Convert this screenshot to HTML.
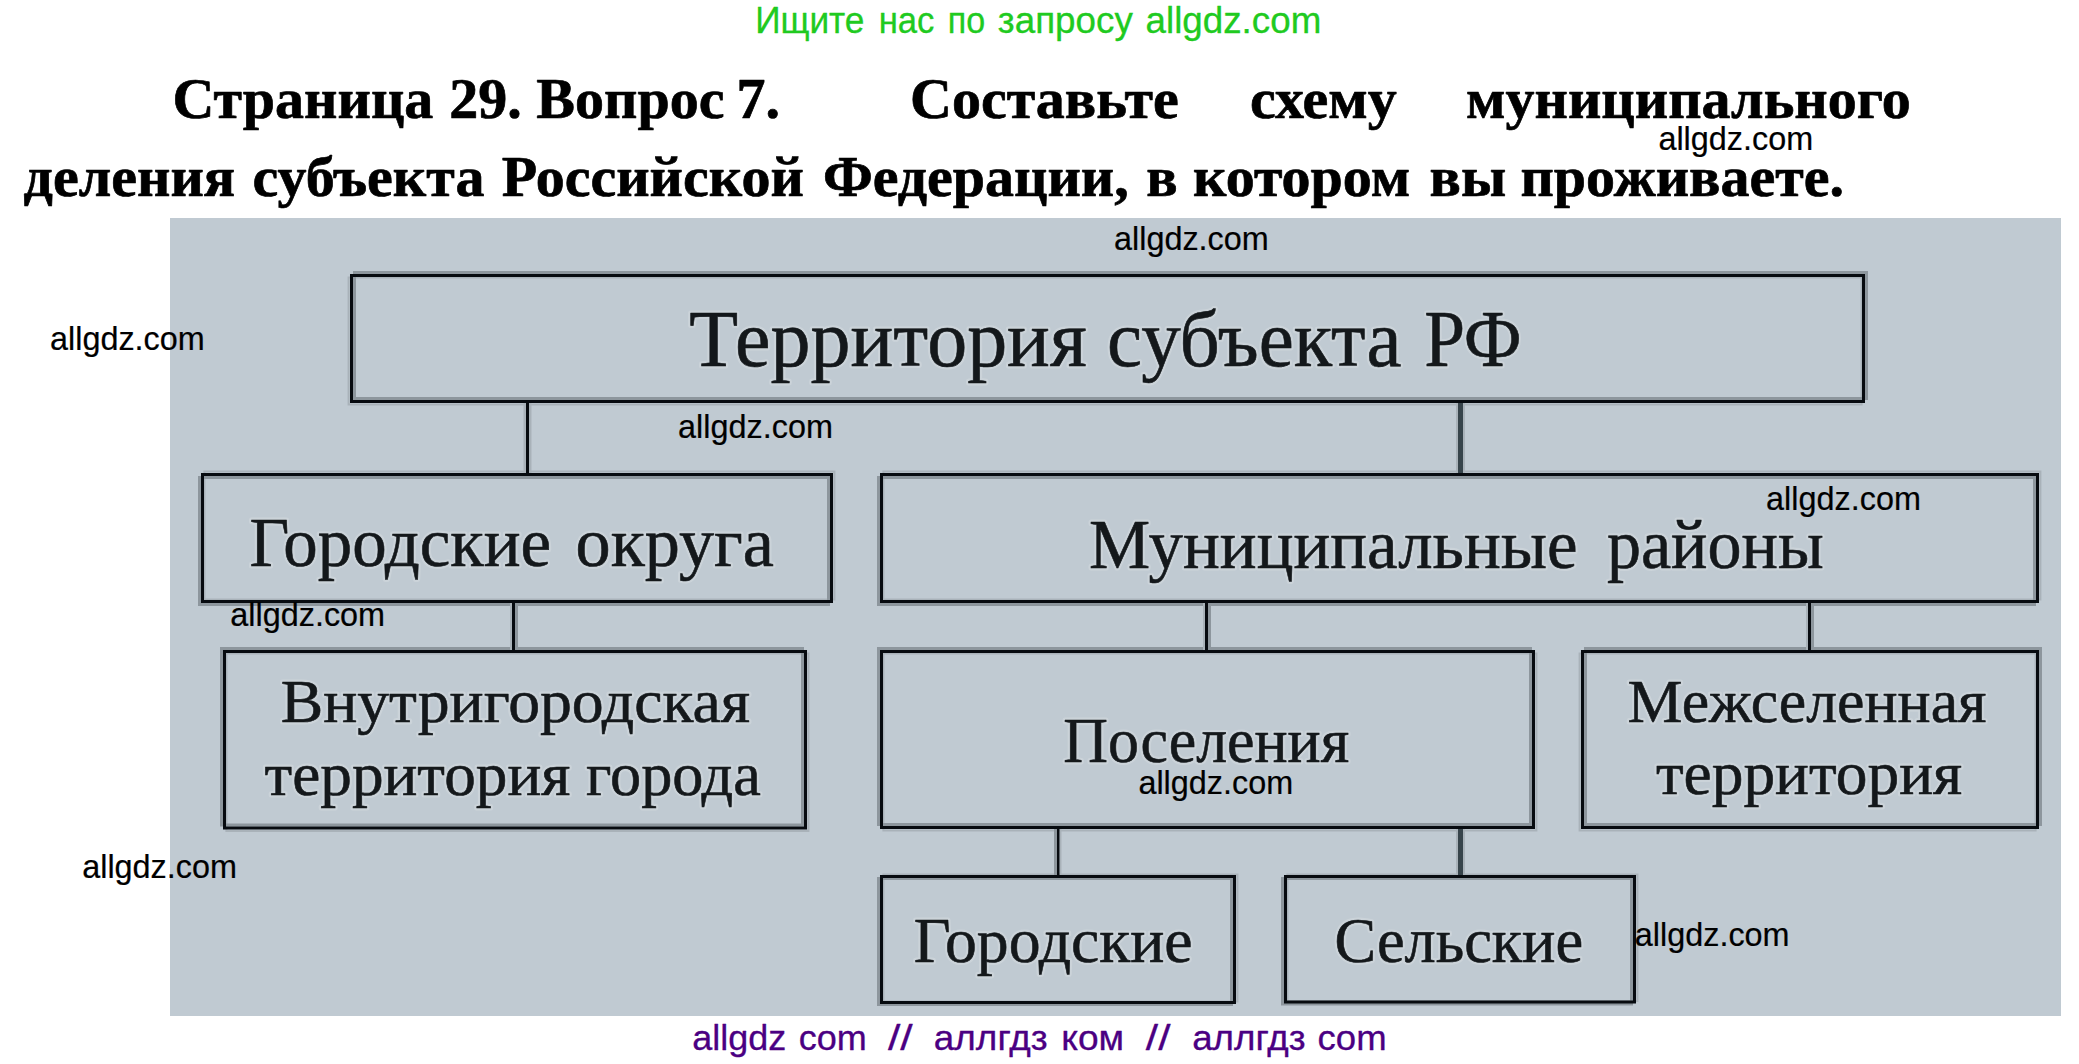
<!DOCTYPE html>
<html><head><meta charset="utf-8"><title>allgdz</title>
<style>html,body{margin:0;padding:0;background:#fff;width:2079px;height:1064px;overflow:hidden}svg{display:block}</style>
</head><body>
<svg width="2079" height="1064" viewBox="0 0 2079 1064">
<rect x="170" y="218" width="1891" height="798" fill="#c0cad2"/>
<path d="M347.6,276.4H1862.6V405.4H347.6Z M349.6,278.4V403.4H1860.6V278.4Z" fill="#a9b2b9" fill-rule="evenodd"/>
<path d="M353,271H1868V400H353Z M356.0,274.0V397.0H1865.0V274.0Z" fill="#8d969d" fill-rule="evenodd"/>
<path d="M350,274H1865V403H350Z M353.0,277.0V400.0H1862.0V277.0Z" fill="#070b10" fill-rule="evenodd"/>
<path d="M203.4,470.6H835.4V600.6H203.4Z M205.4,472.6V598.6H833.4V472.6Z" fill="#a9b2b9" fill-rule="evenodd"/>
<path d="M198,476H830V606H198Z M201.0,479.0V603.0H827.0V479.0Z" fill="#8d969d" fill-rule="evenodd"/>
<path d="M201,473H833V603H201Z M204.0,476.0V600.0H830.0V476.0Z" fill="#070b10" fill-rule="evenodd"/>
<path d="M882.4,470.6H2041.4V600.6H882.4Z M884.4,472.6V598.6H2039.4V472.6Z" fill="#a9b2b9" fill-rule="evenodd"/>
<path d="M877,476H2036V606H877Z M880.0,479.0V603.0H2033.0V479.0Z" fill="#8d969d" fill-rule="evenodd"/>
<path d="M880,473H2039V603H880Z M883.0,476.0V600.0H2036.0V476.0Z" fill="#070b10" fill-rule="evenodd"/>
<path d="M225.4,652.4H809.4V831.9H225.4Z M227.4,654.4V829.9H807.4V654.4Z" fill="#a9b2b9" fill-rule="evenodd"/>
<path d="M220,647H804V826.5H220Z M223.0,650.0V823.5H801.0V650.0Z" fill="#8d969d" fill-rule="evenodd"/>
<path d="M223,650H807V829.5H223Z M226.0,653.0V826.5H804.0V653.0Z" fill="#070b10" fill-rule="evenodd"/>
<path d="M882.4,652.4H1537.4V831.4H882.4Z M884.4,654.4V829.4H1535.4V654.4Z" fill="#a9b2b9" fill-rule="evenodd"/>
<path d="M877,647H1532V826H877Z M880.0,650.0V823.0H1529.0V650.0Z" fill="#8d969d" fill-rule="evenodd"/>
<path d="M880,650H1535V829H880Z M883.0,653.0V826.0H1532.0V653.0Z" fill="#070b10" fill-rule="evenodd"/>
<path d="M1578.6,652.4H2036.6V831.4H1578.6Z M1580.6,654.4V829.4H2034.6V654.4Z" fill="#a9b2b9" fill-rule="evenodd"/>
<path d="M1584,647H2042V826H1584Z M1587.0,650.0V823.0H2039.0V650.0Z" fill="#8d969d" fill-rule="evenodd"/>
<path d="M1581,650H2039V829H1581Z M1584.0,653.0V826.0H2036.0V653.0Z" fill="#070b10" fill-rule="evenodd"/>
<path d="M882.4,873.4H1238.4V1002.4H882.4Z M884.4,875.4V1000.4H1236.4V875.4Z" fill="#a9b2b9" fill-rule="evenodd"/>
<path d="M877,877H1233V1006H877Z M880.0,880.0V1003.0H1230.0V880.0Z" fill="#8d969d" fill-rule="evenodd"/>
<path d="M880,875H1236V1004H880Z M883.0,878.0V1001.0H1233.0V878.0Z" fill="#070b10" fill-rule="evenodd"/>
<path d="M1286.4,873.4H1638.4V1001.9H1286.4Z M1288.4,875.4V999.9H1636.4V875.4Z" fill="#a9b2b9" fill-rule="evenodd"/>
<path d="M1281,877H1633V1005.5H1281Z M1284.0,880.0V1002.5H1630.0V880.0Z" fill="#8d969d" fill-rule="evenodd"/>
<path d="M1284,875H1636V1003.5H1284Z M1287.0,878.0V1000.5H1633.0V878.0Z" fill="#070b10" fill-rule="evenodd"/>
<rect x="523.5" y="403" width="2.5" height="70" fill="#a9b2b9"/>
<rect x="529" y="403" width="2.5" height="70" fill="#a9b2b9"/>
<rect x="526" y="403" width="3" height="70" fill="#070b10"/>
<rect x="1456" y="403" width="2" height="70" fill="#a9b2b9"/>
<rect x="1463" y="403" width="2" height="70" fill="#a9b2b9"/>
<rect x="1458" y="403" width="5" height="70" fill="#37444b"/>
<rect x="510" y="603" width="2" height="47" fill="#a9b2b9"/>
<rect x="515" y="603" width="3" height="47" fill="#8d969d"/>
<rect x="512" y="603" width="3" height="47" fill="#070b10"/>
<rect x="1203" y="603" width="2" height="47" fill="#a9b2b9"/>
<rect x="1208" y="603" width="3" height="47" fill="#8d969d"/>
<rect x="1205" y="603" width="3" height="47" fill="#070b10"/>
<rect x="1806" y="603" width="2" height="47" fill="#a9b2b9"/>
<rect x="1811" y="603" width="3" height="47" fill="#8d969d"/>
<rect x="1808" y="603" width="3" height="47" fill="#070b10"/>
<rect x="1054" y="829" width="3" height="46" fill="#8d969d"/>
<rect x="1059.5" y="829" width="2.0" height="46" fill="#a9b2b9"/>
<rect x="1057" y="829" width="2.5" height="46" fill="#070b10"/>
<rect x="1456" y="829" width="2" height="46" fill="#a9b2b9"/>
<rect x="1463" y="829" width="2" height="46" fill="#a9b2b9"/>
<rect x="1458" y="829" width="5" height="46" fill="#37444b"/>
<text transform="translate(689.30,366.40) scale(1.0056,1)" font-family="&quot;Liberation Serif&quot;, serif" font-size="79.5" font-weight="normal" fill="#14181b" stroke="#cbd3d9" stroke-width="5" stroke-linejoin="round">Территория</text>
<text transform="translate(1107.10,366.40) scale(0.9940,1)" font-family="&quot;Liberation Serif&quot;, serif" font-size="79.5" font-weight="normal" fill="#14181b" stroke="#cbd3d9" stroke-width="5" stroke-linejoin="round">субъекта</text>
<text transform="translate(1424.30,366.40) scale(0.9219,1)" font-family="&quot;Liberation Serif&quot;, serif" font-size="79.5" font-weight="normal" fill="#14181b" stroke="#cbd3d9" stroke-width="5" stroke-linejoin="round">РФ</text>
<text transform="translate(249.50,565.70) scale(0.9988,1)" font-family="&quot;Liberation Serif&quot;, serif" font-size="69" font-weight="normal" fill="#14181b" stroke="#cbd3d9" stroke-width="5" stroke-linejoin="round">Городские</text>
<text transform="translate(575.60,565.70) scale(1.0171,1)" font-family="&quot;Liberation Serif&quot;, serif" font-size="69" font-weight="normal" fill="#14181b" stroke="#cbd3d9" stroke-width="5" stroke-linejoin="round">округа</text>
<text transform="translate(1089.10,567.50) scale(0.9832,1)" font-family="&quot;Liberation Serif&quot;, serif" font-size="70" font-weight="normal" fill="#14181b" stroke="#cbd3d9" stroke-width="5" stroke-linejoin="round">Муниципальные</text>
<text transform="translate(1606.90,567.50) scale(0.9721,1)" font-family="&quot;Liberation Serif&quot;, serif" font-size="70" font-weight="normal" fill="#14181b" stroke="#cbd3d9" stroke-width="5" stroke-linejoin="round">районы</text>
<text transform="translate(280.70,722.00) scale(1.0273,1)" font-family="&quot;Liberation Serif&quot;, serif" font-size="62" font-weight="normal" fill="#14181b" stroke="#cbd3d9" stroke-width="5" stroke-linejoin="round">Внутригородская</text>
<text transform="translate(264.60,795.00) scale(1.0201,1)" font-family="&quot;Liberation Serif&quot;, serif" font-size="62" font-weight="normal" fill="#14181b" stroke="#cbd3d9" stroke-width="5" stroke-linejoin="round">территория</text>
<text transform="translate(586.10,795.00) scale(1.0037,1)" font-family="&quot;Liberation Serif&quot;, serif" font-size="62" font-weight="normal" fill="#14181b" stroke="#cbd3d9" stroke-width="5" stroke-linejoin="round">города</text>
<text transform="translate(1063.30,762.00) scale(0.9901,1)" font-family="&quot;Liberation Serif&quot;, serif" font-size="62.5" font-weight="normal" fill="#14181b" stroke="#cbd3d9" stroke-width="5" stroke-linejoin="round">Поселения</text>
<text transform="translate(1627.60,721.60) scale(0.9966,1)" font-family="&quot;Liberation Serif&quot;, serif" font-size="62" font-weight="normal" fill="#14181b" stroke="#cbd3d9" stroke-width="5" stroke-linejoin="round">Межселенная</text>
<text transform="translate(1655.90,794.30) scale(1.0221,1)" font-family="&quot;Liberation Serif&quot;, serif" font-size="62" font-weight="normal" fill="#14181b" stroke="#cbd3d9" stroke-width="5" stroke-linejoin="round">территория</text>
<text transform="translate(913.80,962.30) scale(1.0030,1)" font-family="&quot;Liberation Serif&quot;, serif" font-size="63.5" font-weight="normal" fill="#14181b" stroke="#cbd3d9" stroke-width="5" stroke-linejoin="round">Городские</text>
<text transform="translate(1334.60,962.00) scale(0.9819,1)" font-family="&quot;Liberation Serif&quot;, serif" font-size="63.5" font-weight="normal" fill="#14181b" stroke="#cbd3d9" stroke-width="5" stroke-linejoin="round">Сельские</text>
<text transform="translate(689.30,366.40) scale(1.0056,1)" font-family="&quot;Liberation Serif&quot;, serif" font-size="79.5" font-weight="normal" fill="#14181b" stroke="#14181b" stroke-width="0.6" stroke-linejoin="round">Территория</text>
<text transform="translate(1107.10,366.40) scale(0.9940,1)" font-family="&quot;Liberation Serif&quot;, serif" font-size="79.5" font-weight="normal" fill="#14181b" stroke="#14181b" stroke-width="0.6" stroke-linejoin="round">субъекта</text>
<text transform="translate(1424.30,366.40) scale(0.9219,1)" font-family="&quot;Liberation Serif&quot;, serif" font-size="79.5" font-weight="normal" fill="#14181b" stroke="#14181b" stroke-width="0.6" stroke-linejoin="round">РФ</text>
<text transform="translate(249.50,565.70) scale(0.9988,1)" font-family="&quot;Liberation Serif&quot;, serif" font-size="69" font-weight="normal" fill="#14181b" stroke="#14181b" stroke-width="0.6" stroke-linejoin="round">Городские</text>
<text transform="translate(575.60,565.70) scale(1.0171,1)" font-family="&quot;Liberation Serif&quot;, serif" font-size="69" font-weight="normal" fill="#14181b" stroke="#14181b" stroke-width="0.6" stroke-linejoin="round">округа</text>
<text transform="translate(1089.10,567.50) scale(0.9832,1)" font-family="&quot;Liberation Serif&quot;, serif" font-size="70" font-weight="normal" fill="#14181b" stroke="#14181b" stroke-width="0.6" stroke-linejoin="round">Муниципальные</text>
<text transform="translate(1606.90,567.50) scale(0.9721,1)" font-family="&quot;Liberation Serif&quot;, serif" font-size="70" font-weight="normal" fill="#14181b" stroke="#14181b" stroke-width="0.6" stroke-linejoin="round">районы</text>
<text transform="translate(280.70,722.00) scale(1.0273,1)" font-family="&quot;Liberation Serif&quot;, serif" font-size="62" font-weight="normal" fill="#14181b" stroke="#14181b" stroke-width="0.6" stroke-linejoin="round">Внутригородская</text>
<text transform="translate(264.60,795.00) scale(1.0201,1)" font-family="&quot;Liberation Serif&quot;, serif" font-size="62" font-weight="normal" fill="#14181b" stroke="#14181b" stroke-width="0.6" stroke-linejoin="round">территория</text>
<text transform="translate(586.10,795.00) scale(1.0037,1)" font-family="&quot;Liberation Serif&quot;, serif" font-size="62" font-weight="normal" fill="#14181b" stroke="#14181b" stroke-width="0.6" stroke-linejoin="round">города</text>
<text transform="translate(1063.30,762.00) scale(0.9901,1)" font-family="&quot;Liberation Serif&quot;, serif" font-size="62.5" font-weight="normal" fill="#14181b" stroke="#14181b" stroke-width="0.6" stroke-linejoin="round">Поселения</text>
<text transform="translate(1627.60,721.60) scale(0.9966,1)" font-family="&quot;Liberation Serif&quot;, serif" font-size="62" font-weight="normal" fill="#14181b" stroke="#14181b" stroke-width="0.6" stroke-linejoin="round">Межселенная</text>
<text transform="translate(1655.90,794.30) scale(1.0221,1)" font-family="&quot;Liberation Serif&quot;, serif" font-size="62" font-weight="normal" fill="#14181b" stroke="#14181b" stroke-width="0.6" stroke-linejoin="round">территория</text>
<text transform="translate(913.80,962.30) scale(1.0030,1)" font-family="&quot;Liberation Serif&quot;, serif" font-size="63.5" font-weight="normal" fill="#14181b" stroke="#14181b" stroke-width="0.6" stroke-linejoin="round">Городские</text>
<text transform="translate(1334.60,962.00) scale(0.9819,1)" font-family="&quot;Liberation Serif&quot;, serif" font-size="63.5" font-weight="normal" fill="#14181b" stroke="#14181b" stroke-width="0.6" stroke-linejoin="round">Сельские</text>
<text transform="translate(172.50,117.60)" font-family="&quot;Liberation Serif&quot;, serif" font-size="58" font-weight="bold" fill="#000" stroke="#000" stroke-width="0.7" stroke-linejoin="round">Страница</text>
<text transform="translate(449.30,117.60)" font-family="&quot;Liberation Serif&quot;, serif" font-size="58" font-weight="bold" fill="#000" stroke="#000" stroke-width="0.7" stroke-linejoin="round">29.</text>
<text transform="translate(536.30,117.60)" font-family="&quot;Liberation Serif&quot;, serif" font-size="58" font-weight="bold" fill="#000" stroke="#000" stroke-width="0.7" stroke-linejoin="round">Вопрос</text>
<text transform="translate(736.50,117.60)" font-family="&quot;Liberation Serif&quot;, serif" font-size="58" font-weight="bold" fill="#000" stroke="#000" stroke-width="0.7" stroke-linejoin="round">7.</text>
<text transform="translate(910.00,117.60)" font-family="&quot;Liberation Serif&quot;, serif" font-size="58" font-weight="bold" fill="#000" stroke="#000" stroke-width="0.7" stroke-linejoin="round">Составьте</text>
<text transform="translate(1250.00,117.60)" font-family="&quot;Liberation Serif&quot;, serif" font-size="58" font-weight="bold" fill="#000" stroke="#000" stroke-width="0.7" stroke-linejoin="round">схему</text>
<text transform="translate(1466.00,117.60)" font-family="&quot;Liberation Serif&quot;, serif" font-size="58" font-weight="bold" fill="#000" stroke="#000" stroke-width="0.7" stroke-linejoin="round">муниципального</text>
<text transform="translate(23.60,196.00)" font-family="&quot;Liberation Serif&quot;, serif" font-size="58" font-weight="bold" fill="#000" stroke="#000" stroke-width="0.7" stroke-linejoin="round">деления</text>
<text transform="translate(252.50,196.00)" font-family="&quot;Liberation Serif&quot;, serif" font-size="58" font-weight="bold" fill="#000" stroke="#000" stroke-width="0.7" stroke-linejoin="round">субъекта</text>
<text transform="translate(501.70,196.00)" font-family="&quot;Liberation Serif&quot;, serif" font-size="58" font-weight="bold" fill="#000" stroke="#000" stroke-width="0.7" stroke-linejoin="round">Российской</text>
<text transform="translate(822.90,196.00)" font-family="&quot;Liberation Serif&quot;, serif" font-size="58" font-weight="bold" fill="#000" stroke="#000" stroke-width="0.7" stroke-linejoin="round">Федерации,</text>
<text transform="translate(1146.20,196.00)" font-family="&quot;Liberation Serif&quot;, serif" font-size="58" font-weight="bold" fill="#000" stroke="#000" stroke-width="0.7" stroke-linejoin="round">в</text>
<text transform="translate(1193.00,196.00)" font-family="&quot;Liberation Serif&quot;, serif" font-size="58" font-weight="bold" fill="#000" stroke="#000" stroke-width="0.7" stroke-linejoin="round">котором</text>
<text transform="translate(1429.60,196.00)" font-family="&quot;Liberation Serif&quot;, serif" font-size="58" font-weight="bold" fill="#000" stroke="#000" stroke-width="0.7" stroke-linejoin="round">вы</text>
<text transform="translate(1520.40,196.00)" font-family="&quot;Liberation Serif&quot;, serif" font-size="58" font-weight="bold" fill="#000" stroke="#000" stroke-width="0.7" stroke-linejoin="round">проживаете.</text>
<text transform="translate(755.15,32.80) scale(0.9520,1)" font-family="&quot;Liberation Sans&quot;, sans-serif" font-size="37" font-weight="normal" fill="#20ca20" stroke="#20ca20" stroke-width="0.3" stroke-linejoin="round">Ищите</text>
<text transform="translate(878.65,32.80) scale(0.9379,1)" font-family="&quot;Liberation Sans&quot;, sans-serif" font-size="37" font-weight="normal" fill="#20ca20" stroke="#20ca20" stroke-width="0.3" stroke-linejoin="round">нас</text>
<text transform="translate(947.85,32.80) scale(0.9206,1)" font-family="&quot;Liberation Sans&quot;, sans-serif" font-size="37" font-weight="normal" fill="#20ca20" stroke="#20ca20" stroke-width="0.3" stroke-linejoin="round">по</text>
<text transform="translate(997.85,32.80) scale(0.9947,1)" font-family="&quot;Liberation Sans&quot;, sans-serif" font-size="37" font-weight="normal" fill="#20ca20" stroke="#20ca20" stroke-width="0.3" stroke-linejoin="round">запросу</text>
<text transform="translate(1145.55,32.80) scale(0.9940,1)" font-family="&quot;Liberation Sans&quot;, sans-serif" font-size="37" font-weight="normal" fill="#20ca20" stroke="#20ca20" stroke-width="0.3" stroke-linejoin="round">allgdz.com</text>
<text transform="translate(1658.40,149.80) scale(0.9965,1)" font-family="&quot;Liberation Sans&quot;, sans-serif" font-size="32.5" font-weight="normal" fill="#000" stroke="#000" stroke-width="0.2" stroke-linejoin="round">allgdz.com</text>
<text transform="translate(1114.00,249.60) scale(0.9965,1)" font-family="&quot;Liberation Sans&quot;, sans-serif" font-size="32.5" font-weight="normal" fill="#000" stroke="#000" stroke-width="0.2" stroke-linejoin="round">allgdz.com</text>
<text transform="translate(50.00,349.60) scale(0.9965,1)" font-family="&quot;Liberation Sans&quot;, sans-serif" font-size="32.5" font-weight="normal" fill="#000" stroke="#000" stroke-width="0.2" stroke-linejoin="round">allgdz.com</text>
<text transform="translate(678.10,437.70) scale(0.9965,1)" font-family="&quot;Liberation Sans&quot;, sans-serif" font-size="32.5" font-weight="normal" fill="#000" stroke="#000" stroke-width="0.2" stroke-linejoin="round">allgdz.com</text>
<text transform="translate(1766.10,509.60) scale(0.9965,1)" font-family="&quot;Liberation Sans&quot;, sans-serif" font-size="32.5" font-weight="normal" fill="#000" stroke="#000" stroke-width="0.2" stroke-linejoin="round">allgdz.com</text>
<text transform="translate(230.30,625.60) scale(0.9965,1)" font-family="&quot;Liberation Sans&quot;, sans-serif" font-size="32.5" font-weight="normal" fill="#000" stroke="#000" stroke-width="0.2" stroke-linejoin="round">allgdz.com</text>
<text transform="translate(1138.40,793.60) scale(0.9965,1)" font-family="&quot;Liberation Sans&quot;, sans-serif" font-size="32.5" font-weight="normal" fill="#000" stroke="#000" stroke-width="0.2" stroke-linejoin="round">allgdz.com</text>
<text transform="translate(82.20,877.60) scale(0.9965,1)" font-family="&quot;Liberation Sans&quot;, sans-serif" font-size="32.5" font-weight="normal" fill="#000" stroke="#000" stroke-width="0.2" stroke-linejoin="round">allgdz.com</text>
<text transform="translate(1634.80,945.60) scale(0.9965,1)" font-family="&quot;Liberation Sans&quot;, sans-serif" font-size="32.5" font-weight="normal" fill="#000" stroke="#000" stroke-width="0.2" stroke-linejoin="round">allgdz.com</text>
<text transform="translate(692.25,1050.00) scale(1.0144,1)" font-family="&quot;Liberation Sans&quot;, sans-serif" font-size="35.5" font-weight="normal" fill="#4b0082" stroke="#4b0082" stroke-width="0.3" stroke-linejoin="round">allgdz</text>
<text transform="translate(798.75,1050.00) scale(1.0155,1)" font-family="&quot;Liberation Sans&quot;, sans-serif" font-size="35.5" font-weight="normal" fill="#4b0082" stroke="#4b0082" stroke-width="0.3" stroke-linejoin="round">com</text>
<text transform="translate(887.95,1050.00) scale(1.2565,1)" font-family="&quot;Liberation Sans&quot;, sans-serif" font-size="35.5" font-weight="normal" fill="#4b0082" stroke="#4b0082" stroke-width="0.3" stroke-linejoin="round">//</text>
<text transform="translate(933.85,1050.00) scale(1.0391,1)" font-family="&quot;Liberation Sans&quot;, sans-serif" font-size="35.5" font-weight="normal" fill="#4b0082" stroke="#4b0082" stroke-width="0.3" stroke-linejoin="round">аллгдз</text>
<text transform="translate(1061.25,1050.00) scale(1.0472,1)" font-family="&quot;Liberation Sans&quot;, sans-serif" font-size="35.5" font-weight="normal" fill="#4b0082" stroke="#4b0082" stroke-width="0.3" stroke-linejoin="round">ком</text>
<text transform="translate(1145.85,1050.00) scale(1.2463,1)" font-family="&quot;Liberation Sans&quot;, sans-serif" font-size="35.5" font-weight="normal" fill="#4b0082" stroke="#4b0082" stroke-width="0.3" stroke-linejoin="round">//</text>
<text transform="translate(1192.15,1050.00) scale(1.0364,1)" font-family="&quot;Liberation Sans&quot;, sans-serif" font-size="35.5" font-weight="normal" fill="#4b0082" stroke="#4b0082" stroke-width="0.3" stroke-linejoin="round">аллгдз</text>
<text transform="translate(1317.55,1050.00) scale(1.0304,1)" font-family="&quot;Liberation Sans&quot;, sans-serif" font-size="35.5" font-weight="normal" fill="#4b0082" stroke="#4b0082" stroke-width="0.3" stroke-linejoin="round">com</text>
</svg>
</body></html>
